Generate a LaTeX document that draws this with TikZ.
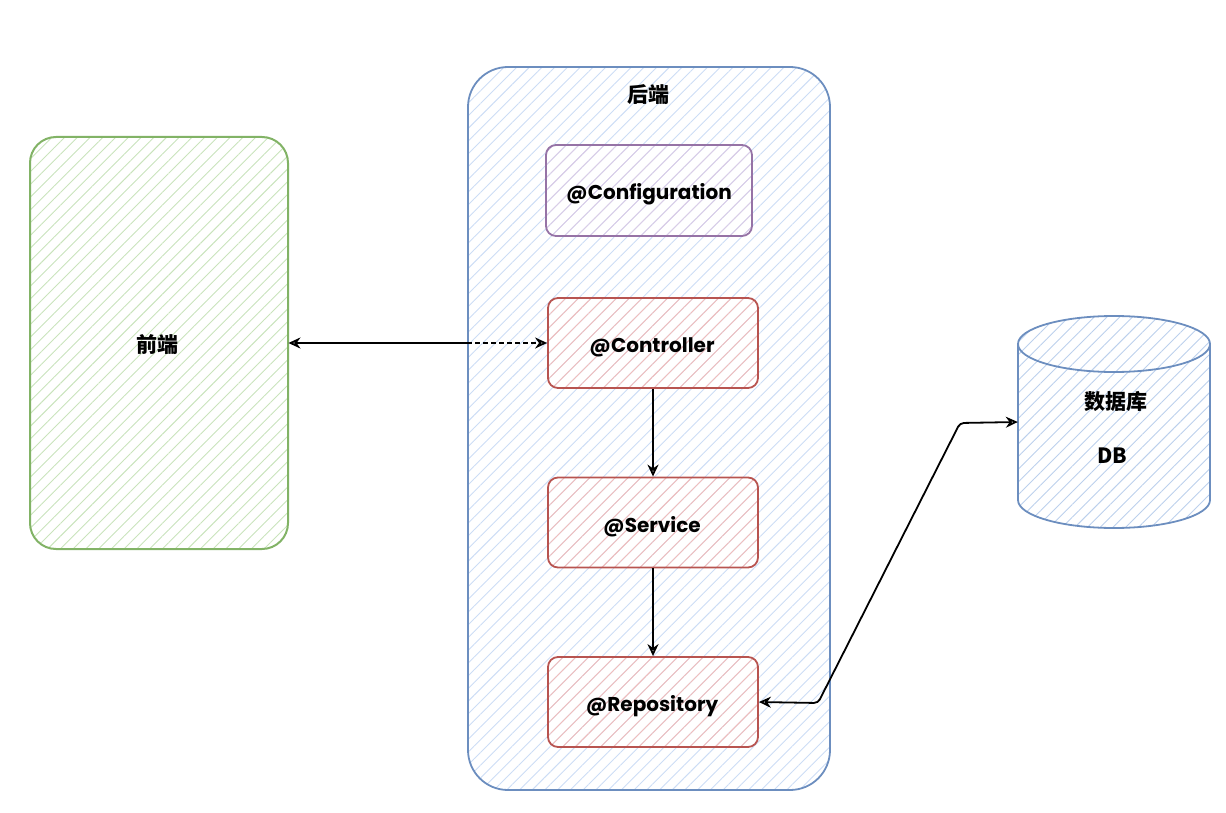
\documentclass[tikz,border=0pt]{standalone}
\usepackage{fontspec}
\setmainfont{Poppins}
\newfontfamily\cjk{Noto Sans CJK SC}
\usetikzlibrary{patterns.meta,arrows.meta,calc}
\definecolor{gborder}{HTML}{82B366}
\definecolor{bborder}{HTML}{6C8EBF}
\definecolor{rborder}{HTML}{B85450}
\definecolor{pborder}{HTML}{9673A6}
\definecolor{ghatch}{HTML}{C9E3BC}
\definecolor{bhatch}{HTML}{CCDDF5}
\definecolor{rhatch}{HTML}{F2BDBA}
\definecolor{phatch}{HTML}{DCCCE6}
\definecolor{dbhatch}{HTML}{BCD0EC}
\tikzset{
  x=1pt,y=1pt,
  hatch/.style={pattern={Lines[angle=45,distance=9pt,line width=0.9pt]},pattern color=#1},
  frontbox/.style={draw=gborder,line width=2pt,rounded corners=26pt,hatch=ghatch,minimum width=258pt,minimum height=412pt,inner sep=0pt},
  backbox/.style={draw=bborder,line width=1.8pt,rounded corners=40pt,hatch=bhatch,minimum width=362pt,minimum height=723pt,inner sep=0pt},
  boxtext/.style={font=\fontsize{20}{24}\selectfont\bfseries,inner sep=0pt},
  redbox/.style={draw=rborder,line width=1.8pt,rounded corners=10pt,hatch=rhatch,minimum width=210pt,minimum height=90pt,inner sep=0pt},
  purplebox/.style={draw=pborder,line width=1.8pt,rounded corners=10pt,hatch=phatch,minimum width=206pt,minimum height=91pt,inner sep=0pt},
  cjklabel/.style={font=\cjk\bfseries\fontsize{21}{24}\selectfont,inner sep=0pt},
  tip/.style={Stealth[open,length=12pt,width=11pt,line width=1.6pt]},
  conn/.style={line width=1.8pt,black,{Stealth[open,length=12pt,width=11pt]}-{Stealth[open,length=12pt,width=11pt]}},
  flow/.style={line width=1.8pt,black,-{Stealth[open,length=12pt,width=11pt]}},
}
\begin{document}
\begin{tikzpicture}
\useasboundingbox (0,0) rectangle (1226,-813);
% frontend
\node[frontbox] (front) at (159,-343) {};
\node[cjklabel] (frontlabel) at (157,-345) {前端};
% backend
\node[backbox] (back) at (649,-428.5) {};
\node[cjklabel] (backlabel) at (648,-95) {后端};
% inner boxes
\node[purplebox] (conf) at (649,-190.5) {};
\node[boxtext] (conft) at (649,-194) {@Configuration};
\node[redbox] (ctrl) at (653,-343) {};
\node[boxtext] (ctrlt) at (652,-347) {@Controller};
\node[redbox] (svc) at (653,-522.5) {};
\node[boxtext] (svct) at (652,-527) {@Service};
\node[redbox] (repo) at (653,-702) {};
\node[boxtext] (repot) at (652,-706) {@Repository};
% database cylinder
\node[minimum width=192pt,minimum height=212pt,inner sep=0pt] (db) at (1114,-422) {};
\path[hatch=dbhatch] (1018,-344) -- (1018,-500) arc[start angle=180,end angle=360,x radius=96,y radius=28] -- (1210,-344) arc[start angle=0,end angle=180,x radius=96,y radius=28] -- cycle;
\draw[bborder,line width=1.8pt] (1018,-344) -- (1018,-500) arc[start angle=180,end angle=360,x radius=96,y radius=28] -- (1210,-344) arc[start angle=0,end angle=180,x radius=96,y radius=28] -- cycle;
\draw[bborder,line width=1.8pt] (1018,-344) arc[start angle=180,end angle=360,x radius=96,y radius=28];
\node[cjklabel] (dblabel) at (1116,-402) {数据库};
\node[font=\cjk\fontsize{21}{24}\selectfont\bfseries,inner sep=0pt] (dbtext) at (1112,-456) {DB};
% connectors
\coordinate (mid) at (back.west |- ctrl.west);
\draw[line width=1.8pt,black,{Stealth[open,length=12pt,width=11pt]}-] (front.east |- ctrl.west) -- (mid);
\draw[line width=1.8pt,black,dash pattern=on 5pt off 3pt,-{Stealth[open,length=12pt,width=11pt]}] (mid) -- (ctrl.west);
\draw[flow] (ctrl.south) -- (svc.north);
\draw[flow] (svc.south) -- (repo.north);
\coordinate (bend1) at (818,-703);
\coordinate (bend2) at (960,-423);
\coordinate (dbin) at (db.west |- 0,-422);
\draw[conn,rounded corners=4pt] (repo.east) -- (bend1) -- (bend2) -- (dbin);
\end{tikzpicture}
\end{document}
